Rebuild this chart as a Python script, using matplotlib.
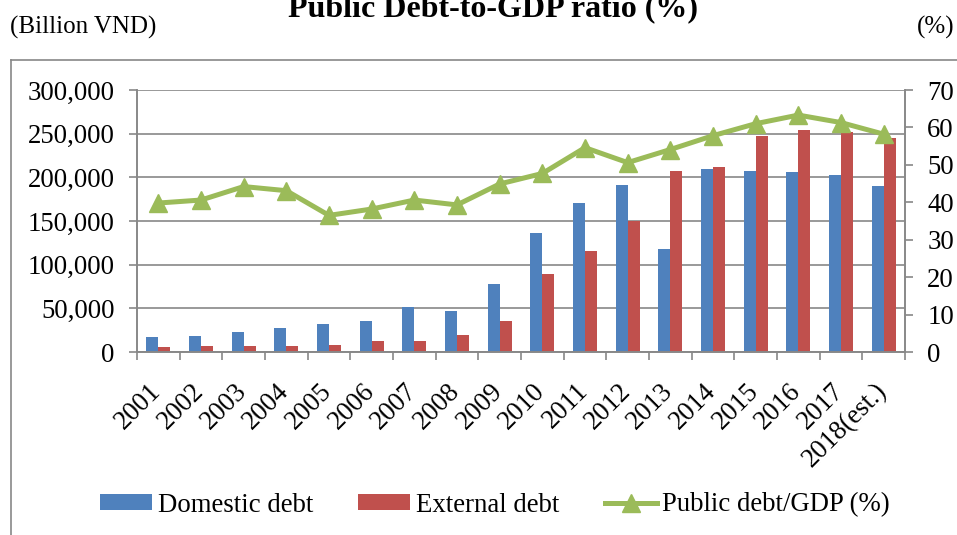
import numpy as np
import matplotlib.pyplot as plt
from matplotlib.lines import Line2D
from matplotlib.ticker import FuncFormatter, FixedLocator
import matplotlib.transforms as mtransforms

plt.rcParams['font.family'] = ['Liberation Serif', 'DejaVu Serif']

years = ["2001", "2002", "2003", "2004", "2005", "2006", "2007", "2008", "2009",
         "2010", "2011", "2012", "2013", "2014", "2015", "2016", "2017", "2018(est.)"]
domestic = [17000, 18300, 22500, 27000, 32000, 35000, 51300, 47100, 77600,
            135700, 171100, 191600, 117900, 209900, 207200, 205700, 202700, 190500]
external = [5700, 6800, 6800, 6800, 8000, 12500, 12500, 19000, 35700,
            89000, 116000, 150200, 207600, 211400, 247500, 254700, 251700, 245600]
debt_gdp = [39.8, 40.6, 44.2, 43.1, 36.5, 38.2, 40.6, 39.3, 44.9,
            47.7, 54.6, 50.6, 54.1, 57.8, 61.0, 63.3, 61.3, 58.2]

BLUE = "#4F81BD"
RED = "#C0504D"
GREEN = "#9BBB59"
GREY = "#888888"
FS = 19.3

W, H = 957, 535
fig = plt.figure(figsize=(W / 100, H / 100), dpi=100)
ax = fig.add_axes([137 / W, 1 - 352 / H, (905 - 137) / W, (352 - 90) / H])
ax2 = ax.twinx()

x = np.arange(len(years))
bw = 0.28
ax.bar(x - bw / 2, domestic, bw, color=BLUE, label="Domestic debt", zorder=2)
ax.bar(x + bw / 2, external, bw, color=RED, label="External debt", zorder=2)
ax2.plot(x, debt_gdp, color=GREEN, lw=3.6, marker="^", markersize=13,
         label="Public debt/GDP (%)", zorder=3)

ax.set_xlim(-0.5, len(years) - 0.5)
ax.set_ylim(0, 300000)
ax.set_yticks(np.arange(0, 300001, 50000))
ax.yaxis.set_major_formatter(FuncFormatter(lambda v, p: f"{int(v):,}"))
ax2.set_ylim(0, 70)
ax2.set_yticks(np.arange(0, 71, 10))

ax.yaxis.grid(True, color=GREY, lw=1.2, zorder=0)
ax.set_axisbelow(True)

for a in (ax, ax2):
    for s in ("left", "right", "bottom"):
        a.spines[s].set_color(GREY)
        a.spines[s].set_linewidth(1.2)
    a.spines["top"].set_visible(False)

ax.tick_params(axis="y", length=6, width=1.2, color=GREY, labelsize=FS, pad=10)
ax2.tick_params(axis="y", length=6, width=1.2, color=GREY, labelsize=FS, pad=10)

ax.set_xticks(x)
ax.set_xticklabels(years, rotation=45, ha="right", va="top", fontsize=FS)
ax.tick_params(axis="x", which="major", length=0, pad=19)
ax.xaxis.set_minor_locator(FixedLocator(np.arange(-0.5, len(years), 1.0)))
ax.tick_params(axis="x", which="minor", length=6, width=1.2, color=GREY)
shift = mtransforms.ScaledTranslation(8 / 100, 0, fig.dpi_scale_trans)
for lab in ax.get_xticklabels():
    lab.set_transform(lab.get_transform() + shift)

# outer frame
fig.add_artist(Line2D([11 / W, 1], [1 - 60 / H, 1 - 60 / H], color=GREY, lw=1.2))
fig.add_artist(Line2D([11 / W, 11 / W], [0, 1 - 60 / H], color=GREY, lw=1.2))

fig.text(493 / W, 1 - 16 / H, "Public Debt-to-GDP ratio (%)", ha="center",
         va="baseline", fontsize=23, fontweight="bold")
fig.text(10 / W, 1 - 27 / H, "(Billion VND)", ha="left", va="center", fontsize=18)
fig.text(955 / W, 1 - 27 / H, "(%)", ha="right", va="center", fontsize=18)

h1, l1 = ax.get_legend_handles_labels()
h2, l2 = ax2.get_legend_handles_labels()
fig.legend(h1 + h2, l1 + l2, loc="center", bbox_to_anchor=(495 / W, 1 - 505 / H),
           ncol=3, frameon=False, fontsize=FS, handlelength=1.94, handleheight=0.52,
           handletextpad=0.22, columnspacing=1.68)

fig.savefig("out.png", dpi=100)
